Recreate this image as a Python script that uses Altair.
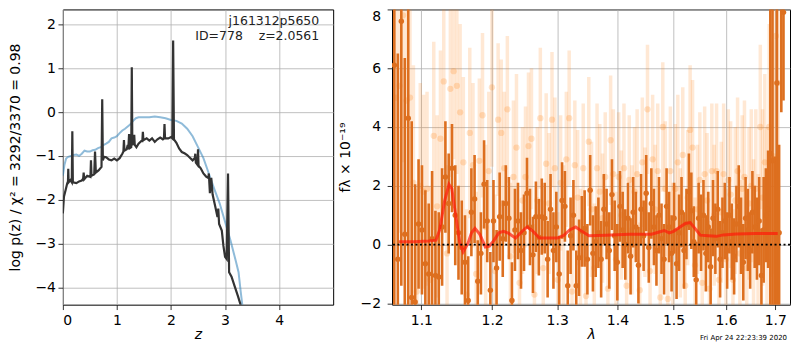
import altair as alt
import pandas as pd

FONT = "DejaVu Sans"

# ---------------- left panel: log p(z) ----------------
z_dark = [0.00, 0.02, 0.05, 0.08, 0.095, 0.10, 0.107, 0.14, 0.165, 0.175, 0.185, 0.25, 0.30, 0.35,
          0.375, 0.385, 0.395, 0.45, 0.51, 0.52, 0.53, 0.58, 0.595, 0.61, 0.66, 0.715, 0.728, 0.74,
          0.76, 0.80, 0.85, 0.90, 0.95, 1.00, 1.05, 1.10, 1.12, 1.13, 1.14, 1.18, 1.20, 1.21, 1.225,
          1.24, 1.265, 1.275, 1.285, 1.31, 1.32, 1.33, 1.36, 1.40, 1.45, 1.47, 1.48, 1.49, 1.55, 1.60,
          1.65, 1.70, 1.75, 1.80, 1.85, 1.87, 1.88, 1.89, 1.95, 2.00, 2.025, 2.04, 2.055, 2.10, 2.15,
          2.20, 2.25, 2.30, 2.35, 2.40, 2.44, 2.45, 2.46, 2.49, 2.50, 2.51, 2.55, 2.60, 2.65, 2.69,
          2.70, 2.72, 2.745, 2.77, 2.82, 2.86, 2.875, 2.89, 2.94, 2.97, 3.00, 3.03, 3.055, 3.075,
          3.12, 3.18, 3.24, 3.28, 3.32]
logp_dark = [-2.31, -1.93, -1.78, -1.63, -1.58, -1.29, -1.60, -1.55, -1.60, -0.44, -1.60, -1.62, -1.58, -1.56,
             -1.52, -1.38, -1.53, -1.45, -1.48, -1.10, -1.45, -1.42, -0.90, -1.38, -1.33, -1.25, 0.29, -1.10,
             -1.02, -1.03, -1.08, -1.10, -1.06, -1.10, -1.05, -0.95, -0.90, -0.64, -0.88, -0.85, -0.75, -0.85, -0.50,
             -0.82, -0.80, 1.02, -0.75, -0.68, -0.52, -0.75, -0.80, -0.72, -0.66, -0.66, -0.45, -0.64, -0.60, -0.65,
             -0.60, -0.68, -0.62, -0.58, -0.62, -0.60, -0.27, -0.60, -0.60, -0.57, -0.60, 1.63, -0.62, -0.70, -0.83,
             -0.91, -0.94, -0.98, -1.04, -1.10, -1.05, -0.95, -1.15, -1.20, -0.85, -1.22, -1.28, -1.40, -1.47, -1.50,
             -1.40, -1.85, -1.50, -1.88, -2.16, -2.39, -2.20, -2.55, -2.70, -3.05, -3.30, -3.35, -1.40, -3.65,
             -3.75, -3.98, -4.20, -4.36, -4.60]

z_blue = [0.00, 0.03, 0.06, 0.10, 0.15, 0.20, 0.25, 0.30, 0.35, 0.40, 0.45, 0.50, 0.55, 0.60, 0.65, 0.70,
          0.75, 0.80, 0.85, 0.90, 0.95, 1.00, 1.05, 1.10, 1.15, 1.20, 1.25, 1.30, 1.35, 1.40, 1.50, 1.60,
          1.70, 1.80, 1.90, 2.00, 2.10, 2.20, 2.30, 2.40, 2.50, 2.60, 2.70, 2.80, 2.90, 3.00, 3.10, 3.20,
          3.25, 3.29, 3.33]
logp_blue = [-1.45, -1.20, -1.06, -1.02, -1.00, -0.98, -0.97, -1.00, -0.95, -0.88, -0.90, -0.90, -0.87, -0.86,
             -0.82, -0.80, -0.75, -0.72, -0.68, -0.60, -0.58, -0.55, -0.48, -0.42, -0.38, -0.33, -0.28, -0.20,
             -0.14, -0.12, -0.12, -0.12, -0.10, -0.12, -0.14, -0.18, -0.20, -0.26, -0.38, -0.55, -0.80, -1.05,
             -1.40, -1.75, -2.08, -2.50, -2.92, -3.40, -3.65, -4.10, -4.50]

# ---------------- right panel: spectrum ----------------
lam_dark = [
    1.0640, 1.0686, 1.0732, 1.0778, 1.0824, 1.0870, 1.0916, 1.0962, 1.1008, 1.1054,
    1.1100, 1.1146, 1.1192, 1.1238, 1.1284, 1.1330, 1.1376, 1.1422, 1.1468, 1.1514,
    1.1560, 1.1606, 1.1652, 1.1698, 1.1744, 1.1790, 1.1836, 1.1882, 1.1928, 1.1974,
    1.2020, 1.2066, 1.2112, 1.2158, 1.2204, 1.2250, 1.2296, 1.2342, 1.2388, 1.2434,
    1.2480, 1.2526, 1.2572, 1.2618, 1.2664, 1.2710, 1.2756, 1.2802, 1.2848, 1.2894,
    1.2940, 1.2986, 1.3032, 1.3078, 1.3124, 1.3170, 1.3216, 1.3262, 1.3308, 1.3354,
    1.3400, 1.3446, 1.3492, 1.3538, 1.3584, 1.3630, 1.3676, 1.3722, 1.3768, 1.3814,
    1.3860, 1.3906, 1.3952, 1.3998, 1.4044, 1.4090, 1.4136, 1.4182, 1.4228, 1.4274,
    1.4320, 1.4366, 1.4412, 1.4458, 1.4504, 1.4550, 1.4596, 1.4642, 1.4688, 1.4734,
    1.4780, 1.4826, 1.4872, 1.4918, 1.4964, 1.5010, 1.5056, 1.5102, 1.5148, 1.5194,
    1.5240, 1.5286, 1.5332, 1.5378, 1.5424, 1.5470, 1.5516, 1.5562, 1.5608, 1.5654,
    1.5700, 1.5746, 1.5792, 1.5838, 1.5884, 1.5930, 1.5976, 1.6022, 1.6068, 1.6114,
    1.6160, 1.6206, 1.6252, 1.6298, 1.6344, 1.6390, 1.6436, 1.6482, 1.6528, 1.6574,
    1.6620, 1.6666, 1.6712, 1.6758, 1.6804, 1.6850, 1.6896, 1.6942, 1.6988, 1.7034,
    1.7080, 1.7126, 1.7172]
flux_dark = [
    6.1, -0.5, 7.6, 0.35, 4.3, -1.8, -1.95, 0.7, 0.5, -0.65,
    -1.0, 0.2, -1.05, -1.1, 0.6, 2.3, 1.4, 2.6, 1.0, 0.4,
    -0.1, -0.6, -1.9, 1.1, 1.55, -1.25, -0.3, 2.05, 0.8, -1.55,
    0.8, -0.8, 0.95, 0.2, 1.4, 0.9, -1.9, 0.5, 0.8, -0.2,
    0.4, 1.75, 0.6, -0.35, 0.95, 0.25, 0.95, 0.9, -0.5, 1.2,
    -0.2, 0.6, -1.0, 1.5, 1.3, -1.4, 0.3, 1.0, -1.4, -0.45,
    0.45, 0.55, -0.5, 1.85, -0.3, 0.1, 0.4, -0.5, 1.2, 0.7,
    -0.2, 1.7, 0.3, -0.6, 1.3, 0.5, 0.0, 0.9, -0.4, 1.1,
    0.6, -0.7, 1.2, 0.3, 1.75, -0.1, 1.4, 0.6, -0.2, 1.0,
    0.2, -0.5, 1.3, 0.6, -0.3, 0.9, -0.65, 0.4, 1.1, -0.2,
    0.7, 1.8, 1.15, 0.1, -1.2, 0.9, 0.4, 1.0, -0.3, 0.6,
    -0.75, 0.9, 0.2, 1.2, -0.5, 0.4, 0.8, -0.2, 1.0, 0.1,
    -0.4, 0.7, 1.3, 0.3, -0.6, 0.9, 0.5, -0.2, 1.1, 0.6,
    0.2, 0.8, -1.05, 0.5, 1.0, 1.2, 3.1, 2.85, 0.4, 5.5,
    0.4, 8.5, 7.9]
err_dark = [
    9.0, 7.0, 9.0, 6.0, 8.0, 6.0, 4.0, 2.2, 2.2, 2.5,
    2.4, 2.3, 2.2, 2.2, 2.0, 1.9, 1.7, 1.5, 1.7, 1.6,
    1.6, 1.6, 1.5, 1.5, 1.5, 1.4, 1.4, 1.5, 1.4, 1.3,
    1.4, 1.3, 1.5, 1.3, 1.3, 1.4, 1.3, 1.4, 1.3, 1.3,
    1.3, 1.2, 1.3, 1.3, 1.2, 1.3, 1.3, 1.2, 1.3, 1.2,
    1.3, 1.2, 1.3, 1.3, 1.2, 1.2, 1.3, 1.2, 1.2, 1.3,
    1.2, 1.3, 1.2, 1.2, 1.3, 1.2, 1.2, 1.3, 1.2, 1.2,
    1.3, 1.2, 1.2, 1.3, 1.2, 1.3, 1.2, 1.2, 1.3, 1.2,
    1.2, 1.3, 1.2, 1.2, 1.3, 1.2, 1.2, 1.3, 1.2, 1.3,
    1.2, 1.2, 1.3, 1.2, 1.3, 1.2, 1.2, 1.3, 1.2, 1.3,
    1.2, 1.3, 1.3, 1.2, 1.3, 1.2, 1.3, 1.2, 1.3, 1.2,
    1.3, 1.3, 1.2, 1.3, 1.3, 1.2, 1.3, 1.3, 1.3, 1.3,
    1.3, 1.3, 1.4, 1.3, 1.3, 1.4, 1.4, 1.3, 1.4, 1.4,
    1.4, 1.5, 1.6, 1.8, 1.6, 2.0, 7.0, 9.0, 2.6, 8.0,
    3.0, 4.0, 3.0]

lam_light = [
    1.0663, 1.0709, 1.0755, 1.0801, 1.0847, 1.0893, 1.0939, 1.0985, 1.1031, 1.1077,
    1.1123, 1.1169, 1.1215, 1.1261, 1.1307, 1.1353, 1.1399, 1.1445, 1.1491, 1.1537,
    1.1583, 1.1629, 1.1675, 1.1721, 1.1767, 1.1813, 1.1859, 1.1905, 1.1951, 1.1997,
    1.2043, 1.2089, 1.2135, 1.2181, 1.2227, 1.2273, 1.2319, 1.2365, 1.2411, 1.2457,
    1.2503, 1.2549, 1.2595, 1.2641, 1.2687, 1.2733, 1.2779, 1.2825, 1.2871, 1.2917,
    1.2963, 1.3009, 1.3055, 1.3101, 1.3147, 1.3193, 1.3239, 1.3285, 1.3331, 1.3377,
    1.3423, 1.3469, 1.3515, 1.3561, 1.3607, 1.3653, 1.3699, 1.3745, 1.3791, 1.3837,
    1.3883, 1.3929, 1.3975, 1.4021, 1.4067, 1.4113, 1.4159, 1.4205, 1.4251, 1.4297,
    1.4343, 1.4389, 1.4435, 1.4481, 1.4527, 1.4573, 1.4619, 1.4665, 1.4711, 1.4757,
    1.4803, 1.4849, 1.4895, 1.4941, 1.4987, 1.5033, 1.5079, 1.5125, 1.5171, 1.5217,
    1.5263, 1.5309, 1.5355, 1.5401, 1.5447, 1.5493, 1.5539, 1.5585, 1.5631, 1.5677,
    1.5723, 1.5769, 1.5815, 1.5861, 1.5907, 1.5953, 1.5999, 1.6045, 1.6091, 1.6137,
    1.6183, 1.6229, 1.6275, 1.6321, 1.6367, 1.6413, 1.6459, 1.6505, 1.6551, 1.6597,
    1.6643, 1.6689, 1.6735, 1.6781, 1.6827, 1.6873, 1.6919, 1.6965, 1.7011, 1.7057]
flux_light = [
    5.0, 5.4, 7.8, 4.9, 5.0, 2.1, -1.6, 2.0, 1.8, 1.9,
    -1.2, 3.7, 1.3, 3.6, 5.55, -0.3, 5.3, 5.9, 5.4, 4.5,
    2.8, -1.7, 3.8, 2.7, -1.0, 2.85, 4.4, 0.6, 2.5, 5.35,
    -0.9, 4.25, 3.8, 2.6, 4.6, -0.4, 2.3, 3.3, -1.3, 1.5,
    2.3, 3.35, 3.6, -1.7, 1.5, 4.3, -0.8, 2.75, 1.4, 4.25,
    2.6, -1.2, 2.1, 0.3, 2.9, 4.3, -1.6, 2.7, 1.6, -0.4,
    2.6, -1.75, 3.5, 1.2, -0.8, 2.6, 1.8, 0.9, 2.3, -1.5,
    3.55, 2.4, -0.5, 2.3, 1.0, 2.6, -1.4, 2.2, 0.5, 1.8,
    2.4, -1.55, 2.8, 1.1, 4.6, -0.9, 2.9, 1.2, 2.5, -1.8,
    4.0, 1.9, -1.85, 2.5, -0.2, 1.9, 2.8, 0.4, 3.05, -1.4,
    1.6, 3.9, 3.3, -0.7, 1.2, 2.2, -1.3, 2.4, 1.5, -1.5,
    2.5, 1.0, 2.5, -1.2, 1.1, 2.4, -0.5, 2.2, 1.7, -1.2,
    1.5, 2.5, -0.3, 1.9, 2.3, -0.8, 1.4, 2.0, 0.2, 1.9,
    -0.2, 4.0, 1.6, 2.8, 0.8, 4.0, 2.9, 3.0, 7.1, 5.5]
err_light = [
    5.0, 5.0, 5.0, 5.0, 5.0, 4.0, 3.5, 3.5, 3.3, 3.3,
    3.2, 3.2, 3.1, 3.0, 3.0, 3.0, 3.0, 3.0, 3.0, 3.0,
    2.9, 2.9, 2.9, 2.8, 2.8, 2.8, 2.8, 2.8, 2.7, 2.7,
    2.6, 2.6, 2.5, 2.6, 2.5, 2.5, 2.6, 2.5, 2.4, 2.5,
    2.4, 2.5, 2.4, 2.4, 2.5, 2.4, 2.3, 2.4, 2.4, 2.3,
    2.4, 2.3, 2.3, 2.4, 2.3, 2.3, 2.4, 2.2, 2.3, 2.3,
    2.2, 2.3, 2.2, 2.3, 2.2, 2.2, 2.3, 2.2, 2.2, 2.3,
    2.2, 2.2, 2.3, 2.2, 2.2, 2.2, 2.3, 2.2, 2.2, 2.2,
    2.2, 2.3, 2.2, 2.2, 2.2, 2.3, 2.2, 2.2, 2.3, 2.2,
    2.2, 2.3, 2.2, 2.2, 2.3, 2.2, 2.3, 2.2, 2.3, 2.2,
    2.3, 2.2, 2.3, 2.3, 2.2, 2.3, 2.3, 2.3, 2.3, 2.3,
    2.3, 2.4, 2.3, 2.4, 2.4, 2.4, 2.4, 2.4, 2.5, 2.4,
    2.5, 2.5, 2.5, 2.5, 2.6, 2.6, 2.6, 2.6, 2.7, 2.7,
    2.6, 2.8, 3.0, 3.0, 3.2, 3.5, 4.0, 4.0, 5.0, 5.0]

lam_model = [1.070, 1.090, 1.110, 1.120, 1.125, 1.132, 1.138, 1.142, 1.148, 1.153, 1.158, 1.165,
             1.170, 1.175, 1.182, 1.190, 1.196, 1.203, 1.210, 1.217, 1.225, 1.235, 1.245, 1.253,
             1.262, 1.272, 1.285, 1.300, 1.310, 1.320, 1.330, 1.340, 1.352, 1.380, 1.420, 1.460,
             1.472, 1.483, 1.492, 1.500, 1.512, 1.522, 1.531, 1.540, 1.550, 1.565, 1.581, 1.595,
             1.620, 1.660, 1.705]
flux_model = [0.10, 0.10, 0.12, 0.15, 0.50, 1.50, 2.05, 1.90, 0.90, 0.10, -0.25, 0.05,
              0.40, 0.55, 0.35, -0.08, -0.05, 0.15, 0.40, 0.45, 0.38, 0.22, 0.45, 0.60,
              0.45, 0.22, 0.22, 0.22, 0.30, 0.50, 0.60, 0.45, 0.30, 0.32, 0.35, 0.35,
              0.42, 0.48, 0.40, 0.45, 0.60, 0.72, 0.75, 0.55, 0.32, 0.30, 0.28, 0.33,
              0.36, 0.38, 0.38]

# ---------------- data frames ----------------
df_dark_pz = pd.DataFrame({"z": z_dark, "v": logp_dark})
df_blue_pz = pd.DataFrame({"z": z_blue, "v": logp_blue})

df_d = pd.DataFrame({"lam": lam_dark, "f": flux_dark, "e": err_dark})
df_d["lo"] = df_d["f"] - df_d["e"]
df_d["hi"] = df_d["f"] + df_d["e"]
df_l = pd.DataFrame({"lam": lam_light, "f": flux_light, "e": err_light})
df_l["lo"] = df_l["f"] - df_l["e"]
df_l["hi"] = df_l["f"] + df_l["e"]
df_m = pd.DataFrame({"lam": lam_model, "f": flux_model})

# ---------------- left chart ----------------
xz = alt.X("z:Q", scale=alt.Scale(domain=[0, 5], nice=False, zero=False),
           axis=alt.Axis(values=[0, 1, 2, 3, 4], format="d", title="z", titleFontStyle="italic",
                         titlePadding=0))
yz = alt.Y("v:Q", scale=alt.Scale(domain=[-4.39, 2.34], nice=False, zero=False),
           axis=alt.Axis(values=[-4, -3, -2, -1, 0, 1, 2], format="d",
                         title="log p(z) / χ² = 3292/3370 = 0.98",
                         labelPadding=2.5, titlePadding=12))

blue = alt.Chart(df_blue_pz).mark_line(color="#1f77b4", opacity=0.5, strokeWidth=2, clip=True).encode(x=xz, y=yz)
dark = alt.Chart(df_dark_pz).mark_line(color="#333333", strokeWidth=2.2, clip=True).encode(x=xz, y=yz)

lbl1 = alt.Chart(pd.DataFrame({"t": ["j161312p5650"]})).mark_text(
    align="right", baseline="alphabetic", font=FONT, fontSize=12.5, color="#222222"
).encode(x=alt.value(257), y=alt.value(16), text="t:N")
lbl2 = alt.Chart(pd.DataFrame({"t": ["ID=778\u00a0\u00a0\u00a0\u00a0z=2.0561"]})).mark_text(
    align="right", baseline="alphabetic", font=FONT, fontSize=12.5, color="#222222"
).encode(x=alt.value(257), y=alt.value(31), text="t:N")

left = alt.layer(blue, dark, lbl1, lbl2).properties(width=271, height=296)

# ---------------- right chart ----------------
xl = alt.X("lam:Q", scale=alt.Scale(type="log", domain=[1.061, 1.731], nice=False, zero=False),
           axis=alt.Axis(values=[1.1, 1.2, 1.3, 1.4, 1.5, 1.6, 1.7], format=".1f", title="λ",
                         titleFontStyle="italic", titlePadding=0))
yf_axis = alt.Axis(values=[-2, 0, 2, 4, 6, 8], format="d", title="fλ × 10⁻¹⁹",
                   labelPadding=6.5, titlePadding=8, labelFlush=True)
yscale = alt.Scale(domain=[-2.044, 8.0], nice=False, zero=False)

ORANGE = "#ff7f0e"
DARK = "#dd6f1f"

light_bars = alt.Chart(df_l).mark_rule(color=ORANGE, opacity=0.18, strokeWidth=3.5, clip=True).encode(
    x=xl, y=alt.Y("lo:Q", scale=yscale, axis=yf_axis), y2="hi:Q")
light_pts = alt.Chart(df_l).mark_circle(color=ORANGE, opacity=0.22, size=40, clip=True).encode(
    x=xl, y=alt.Y("f:Q", scale=yscale, axis=yf_axis))
dark_bars = alt.Chart(df_d).mark_rule(color=DARK, strokeWidth=2.6, clip=True).encode(
    x=xl, y=alt.Y("lo:Q", scale=yscale, axis=yf_axis), y2="hi:Q")
dark_pts = alt.Chart(df_d).mark_circle(color=DARK, opacity=1, size=30, clip=True).encode(
    x=xl, y=alt.Y("f:Q", scale=yscale, axis=yf_axis))
model = alt.Chart(df_m).mark_line(color="#ff1a0a", opacity=0.7, strokeWidth=3, clip=True).encode(
    x=xl, y=alt.Y("f:Q", scale=yscale, axis=yf_axis))
zero = alt.Chart(pd.DataFrame({"z0": [0]})).mark_rule(
    color="black", strokeWidth=1.6, strokeDash=[2, 2.5]).encode(y=alt.Y("z0:Q", scale=yscale, axis=yf_axis))
footer = alt.Chart(pd.DataFrame({"t": ["Fri Apr 24 22:23:39 2020"]})).mark_text(
    align="right", baseline="alphabetic", font=FONT, fontSize=7, color="black"
).encode(x=alt.value(396), y=alt.value(331), text="t:N")

right = alt.layer(light_bars, light_pts, dark_bars, dark_pts, model, zero, footer).properties(
    width=399, height=296)

chart = alt.HConcatChart(hconcat=[left, right], spacing=59, bounds="flush").properties(
    padding={"left": 0, "top": 0, "right": 0, "bottom": 0}
).configure_view(stroke="black", strokeWidth=1).configure_axis(
    labelFont=FONT, labelFontSize=14, labelColor="black",
    tickColor="black", tickSize=4.9, tickWidth=0.8, domain=False,
    grid=True, gridColor="#b0b0b0", gridWidth=0.8, gridOpacity=1,
    titleFont=FONT, titleFontSize=14, titleFontWeight="normal", titleColor="black",
    labelPadding=4.2, zindex=1
)

chart.save("out.html", embed_options={"renderer": "svg", "actions": False})
